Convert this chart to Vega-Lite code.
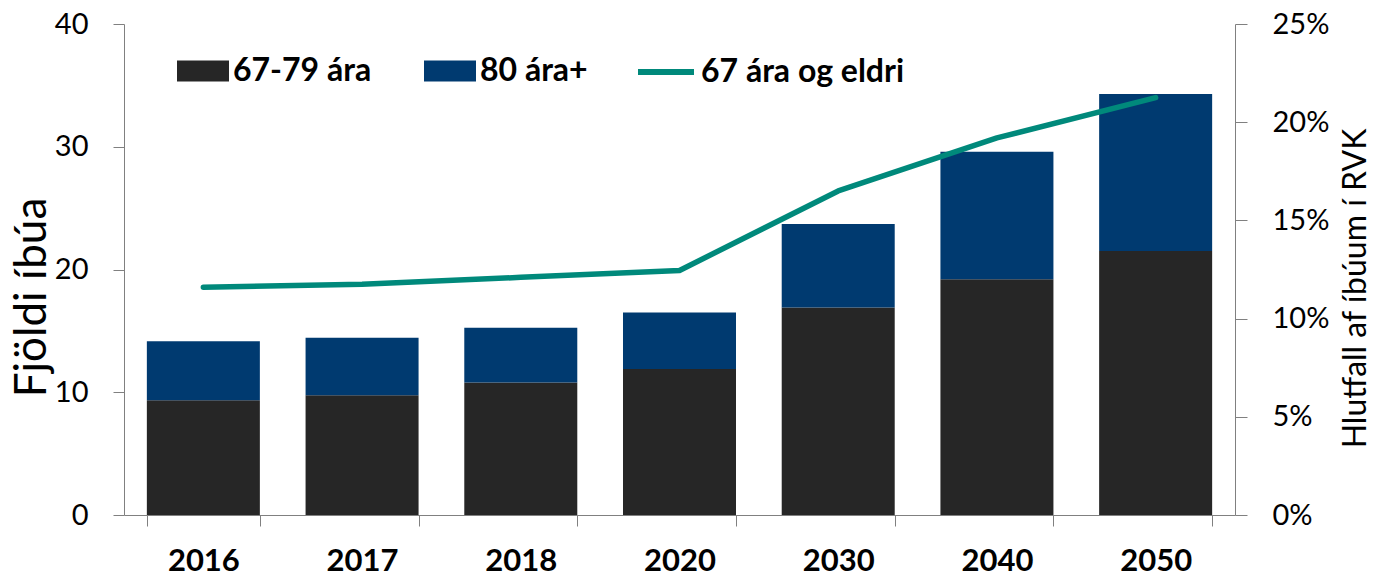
{
  "$schema": "https://vega.github.io/schema/vega-lite/v6.json",
  "width": 1111,
  "height": 491,
  "autosize": {"type": "none"},
  "padding": {"left": 124, "top": 24, "right": 142, "bottom": 62},
  "config": {
    "view": {"stroke": null},
    "font": "Lato",
    "axis": {"grid": false}
  },
  "datasets": {
    "bars": [
      {"year": "2016", "group": "67-79 ára", "value": 9.35},
      {"year": "2016", "group": "80 ára+", "value": 4.8},
      {"year": "2017", "group": "67-79 ára", "value": 9.75},
      {"year": "2017", "group": "80 ára+", "value": 4.7},
      {"year": "2018", "group": "67-79 ára", "value": 10.8},
      {"year": "2018", "group": "80 ára+", "value": 4.45},
      {"year": "2020", "group": "67-79 ára", "value": 11.9},
      {"year": "2020", "group": "80 ára+", "value": 4.6},
      {"year": "2030", "group": "67-79 ára", "value": 16.9},
      {"year": "2030", "group": "80 ára+", "value": 6.8},
      {"year": "2040", "group": "67-79 ára", "value": 19.2},
      {"year": "2040", "group": "80 ára+", "value": 10.4},
      {"year": "2050", "group": "67-79 ára", "value": 21.5},
      {"year": "2050", "group": "80 ára+", "value": 12.8}
    ],
    "line": [
      {"year": "2016", "series": "67 ára og eldri", "pct": 0.116},
      {"year": "2017", "series": "67 ára og eldri", "pct": 0.1175},
      {"year": "2018", "series": "67 ára og eldri", "pct": 0.121},
      {"year": "2020", "series": "67 ára og eldri", "pct": 0.1245},
      {"year": "2030", "series": "67 ára og eldri", "pct": 0.165},
      {"year": "2040", "series": "67 ára og eldri", "pct": 0.192},
      {"year": "2050", "series": "67 ára og eldri", "pct": 0.2125}
    ]
  },
  "layer": [
    {
      "data": {"name": "bars"},
      "mark": {"type": "bar"},
      "encoding": {
        "x": {
          "field": "year",
          "type": "ordinal",
          "scale": {"paddingInner": 0.288, "paddingOuter": 0.144},
          "axis": {
            "title": null,
            "labelAngle": 0,
            "tickBand": "extent",
            "domainColor": "#808080",
            "tickColor": "#808080",
            "tickSize": 11,
            "labelFontSize": 31,
            "labelFontWeight": "bold",
            "labelColor": "#000000",
            "labelPadding": 20
          }
        },
        "y": {
          "field": "value",
          "type": "quantitative",
          "stack": "zero",
          "scale": {"domain": [0, 40]},
          "axis": {
            "values": [0, 10, 20, 30, 40],
            "title": "Fjöldi íbúa",
            "titleFontSize": 44,
            "titleFontWeight": "normal",
            "titleColor": "#000000",
            "titlePadding": 0,
            "titleY": 273,
            "domainColor": "#808080",
            "tickColor": "#808080",
            "tickSize": 11,
            "labelFontSize": 29,
            "labelColor": "#000000",
            "labelPadding": 25
          }
        },
        "color": {
          "field": "group",
          "type": "nominal",
          "scale": {"domain": ["67-79 ára", "80 ára+"], "range": ["#262626", "#003A70"]},
          "legend": {
            "title": null,
            "orient": "none",
            "legendX": 53,
            "legendY": 21,
            "direction": "horizontal",
            "padding": 0,
            "symbolType": "M-1,-0.4H1V0.4H-1Z",
            "symbolSize": 2704,
            "symbolStrokeWidth": 0,
            "symbolOpacity": 1,
            "labelFontSize": 32,
            "labelFontWeight": "bold",
            "labelColor": "#000000",
            "labelOffset": 4,
            "labelLimit": 400,
            "columnPadding": 52
          }
        },
        "order": {"field": "group", "sort": "ascending"}
      }
    },
    {
      "data": {"name": "line"},
      "mark": {"type": "line", "strokeWidth": 5.5, "strokeCap": "round", "strokeJoin": "round"},
      "encoding": {
        "x": {"field": "year", "type": "ordinal"},
        "y": {
          "field": "pct",
          "type": "quantitative",
          "scale": {"domain": [0, 0.25]},
          "axis": {
            "orient": "right",
            "values": [0, 0.05, 0.1, 0.15, 0.2, 0.25],
            "format": ".0%",
            "title": "Hlutfall af íbúum í RVK",
            "titleFontSize": 32,
            "titleFontWeight": "normal",
            "titleColor": "#000000",
            "titleAngle": 270,
            "titleBaseline": "top",
            "titlePadding": 12,
            "titleY": 264,
            "domainColor": "#808080",
            "tickColor": "#808080",
            "tickSize": 12,
            "labelFontSize": 29,
            "labelColor": "#000000",
            "labelPadding": 25
          }
        },
        "stroke": {
          "field": "series",
          "type": "nominal",
          "scale": {"range": ["#00897B"]},
          "legend": {
            "title": null,
            "orient": "none",
            "legendX": 511,
            "legendY": 17,
            "direction": "horizontal",
            "padding": 0,
            "symbolType": "stroke",
            "symbolSize": 3136,
            "symbolStrokeWidth": 6,
            "labelFontSize": 32,
            "labelFontWeight": "bold",
            "labelColor": "#000000",
            "labelOffset": 4,
            "labelLimit": 400
          }
        }
      }
    }
  ],
  "resolve": {"scale": {"y": "independent"}}
}
